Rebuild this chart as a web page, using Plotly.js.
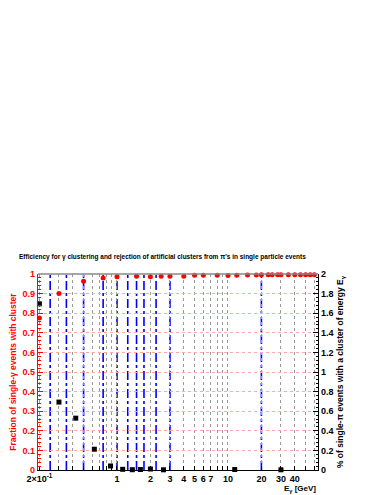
<!DOCTYPE html>
<html><head><meta charset="utf-8">
<script src="https://cdn.plot.ly/plotly-3.0.1.min.js"></script>
<style>body{margin:0;background:#fff}#c{width:383px;height:495px}</style>
</head><body><div id="c"></div>
<script>
// Photon efficiency (left axis)
const gammaE = [0.2,0.3,0.5,0.75,1,1.5,2,2.5,3,4,5,6,8,10,12,15,18,20,23,25,28,30,35,40,45,50,55,60];
const gammaEff = [0.775,0.9,0.963,0.979,0.986,0.989,0.986,0.989,0.989,0.989,0.994,0.994,0.994,0.992,0.994,0.995,0.995,0.996,0.996,0.996,0.996,0.996,0.996,0.996,0.996,0.996,0.996,0.996];
// Pion fake-cluster percentage (right axis)
const pionE = [0.2,0.3,0.425,0.625,0.875,1.125,1.375,1.625,2,2.625,11.5,30];
const pionPct = [1.695,0.693,0.529,0.212,0.041,0.007,0.003,0.005,0.01,0.002,0.005,0.002];
// Bin edges drawn as blue dash-dot lines
const binEdges = [0.25,0.35,0.5,0.75,1,1.25,1.5,1.75,2.25,3,20];
// x tick positions and labels
const xTickVals = [0.2,0.3,0.4,0.5,0.6,0.7,0.8,0.9,1,2,3,4,5,6,7,8,9,10,20,30,40,50,60];
const xTickText = ['2×10<sup>-1</sup>','','','','','','','','1','2','3','4','5','6','7','','','10','20','30','40','',''];
const leftTicks = [0,0.1,0.2,0.3,0.4,0.5,0.6,0.7,0.8,0.9,1];
const rightTicks = [0,0.2,0.4,0.6,0.8,1,1.2,1.4,1.6,1.8,2];

const F = 'Liberation Sans, Arial, sans-serif';
const traces = [
  {x: gammaE, y: gammaEff, type:'scatter', mode:'markers', yaxis:'y',
   marker:{color:'#ff0000', size:5, symbol:'circle'}, cliponaxis:false},
  {x: pionE, y: pionPct, type:'scatter', mode:'markers', yaxis:'y2',
   marker:{color:'#000000', size:5, symbol:'square'}, cliponaxis:false}
];
const shapes = binEdges.map(e => ({type:'line', xref:'x', yref:'paper', x0:e, x1:e, y0:0, y1:1,
  line:{color:'#0000ff', width:1.6, dash:'dashdot'}, layer:'between'}));
shapes.push({type:'line', xref:'paper', yref:'paper', x0:0, x1:1, y0:1, y1:1, line:{color:'#888', width:1.5}});

const layout = {
  width:383, height:495, showlegend:false,
  paper_bgcolor:'#fff', plot_bgcolor:'#fff',
  margin:{l:38, r:65, t:274, b:25},
  font:{family:F, size:9, color:'#000'},
  xaxis:{type:'log', range:[-0.7117, 1.811], tickvals:xTickVals, ticktext:xTickText,
    showgrid:true, gridcolor:'#999', griddash:'dot', gridwidth:1,
    ticks:'inside', ticklen:4, tickcolor:'#000', showline:true, linecolor:'#000', linewidth:1.2,
    tickfont:{family:F, size:9, color:'#000', weight:'bold'}, zeroline:false},
  yaxis:{range:[0,1], tickvals:leftTicks, showgrid:true, gridcolor:'#ffaaaa', griddash:'dot',
    ticks:'inside', ticklen:5, tickcolor:'#ff0000', showline:true, linecolor:'#ff0000', linewidth:1.2,
    minor:{ticks:'inside', ticklen:2.5, tickcolor:'#ff0000', dtick:0.02, showgrid:false},
    tickfont:{family:F, size:9, color:'#ff0000', weight:'bold'}, zeroline:false,
    title:{text:'Fraction of single-γ events with cluster', font:{family:F, size:8.5, color:'#ff0000', weight:'bold'}, standoff:4}},
  yaxis2:{range:[0,2], overlaying:'y', side:'right', tickvals:rightTicks, showgrid:false,
    ticks:'inside', ticklen:5, tickcolor:'#000', showline:true, linecolor:'#000', linewidth:1.2,
    minor:{ticks:'inside', ticklen:2.5, tickcolor:'#000', dtick:0.04, showgrid:false},
    tickfont:{family:F, size:9, color:'#000', weight:'bold'}, zeroline:false,
    title:{text:'% of single-π events with a cluster of energy E<sub>γ</sub>', font:{family:F, size:8.5, color:'#000', weight:'bold'}, standoff:4}},
  shapes: shapes,
  annotations:[
    {text:'Efficiency for γ clustering and rejection of artificial clusters from π\'s in single particle events',
     xref:'paper', yref:'paper', x:-0.075, y:1.085, xanchor:'left', yanchor:'middle', showarrow:false,
     font:{family:F, size:6.5, color:'#000', weight:'bold'}},
    {text:'E<sub>γ</sub> [GeV]', xref:'paper', yref:'paper', x:1.0, y:-0.097, xanchor:'right', yanchor:'middle',
     showarrow:false, font:{family:F, size:8, color:'#000', weight:'bold'}}
  ]
};
Plotly.newPlot('c', traces, layout, {displayModeBar:false, staticPlot:true});
</script></body></html>
